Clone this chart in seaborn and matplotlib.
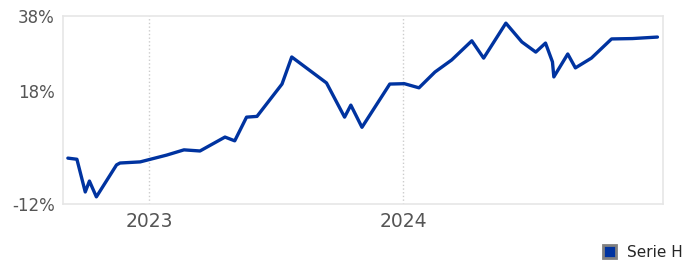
import pandas as pd
import seaborn as sns
import matplotlib.pyplot as plt
import matplotlib.dates as mdates
from matplotlib.patches import Patch

# Werte (Serie H, Rendite in %)
dates = [
    "2022-09-06", "2022-09-19", "2022-10-01", "2022-10-07", "2022-10-17",
    "2022-11-15", "2022-11-20", "2022-12-19", "2023-01-26", "2023-02-20",
    "2023-03-15", "2023-04-20", "2023-05-04", "2023-05-21", "2023-06-05",
    "2023-07-11", "2023-07-25", "2023-09-13", "2023-10-09", "2023-10-18",
    "2023-11-03", "2023-12-13", "2024-01-03", "2024-01-24", "2024-02-16",
    "2024-03-11", "2024-04-09", "2024-04-26", "2024-05-28", "2024-06-20",
    "2024-07-10", "2024-07-24", "2024-08-03", "2024-08-05", "2024-08-25",
    "2024-09-05", "2024-09-28", "2024-10-27", "2024-11-26", "2025-01-01",
]
values = [
    0.2, -0.1, -8.8, -5.9, -10.1,
    -1.6, -1.1, -0.8, 1.0, 2.4,
    2.1, 5.8, 4.8, 11.1, 11.3,
    19.9, 27.1, 20.2, 11.1, 14.3,
    8.4, 19.9, 20.0, 18.9, 23.1,
    26.3, 31.4, 26.8, 36.1, 31.1,
    28.4, 30.8, 25.8, 21.8, 27.9,
    24.2, 26.8, 31.9, 32.0, 32.4,
]
y_ticks = [-12, 18, 38]
year_ticks = ["2023-01-01", "2024-01-01"]
serie_name = "Serie H"

df = pd.DataFrame({"date": pd.to_datetime(dates), "value": values})

sns.set_style("white")
plt.rcParams["font.family"] = ["DejaVu Sans"]

fig = plt.figure(figsize=(6.84, 2.65), dpi=100)
ax = fig.add_axes([63 / 684, 61 / 265, 600 / 684, 188 / 265])

sns.lineplot(data=df, x="date", y="value", ax=ax, color="#0033a0", linewidth=2.4)

# Achsen
ax.set_xlim(pd.Timestamp("2022-08-30"), pd.Timestamp("2025-01-09"))
ax.set_ylim(-12, 38)
ax.set_yticks(y_ticks)
ax.set_yticklabels([f"{v}%" for v in y_ticks], fontsize=12, color="#555555")
ax.set_xticks(pd.to_datetime(year_ticks))
ax.xaxis.set_major_formatter(mdates.DateFormatter("%Y"))
ax.tick_params(axis="x", labelsize=13.5, colors="#555555", length=0, pad=6)
ax.tick_params(axis="y", length=0, pad=6)
ax.set_xlabel("")
ax.set_ylabel("")

ax.grid(False)
ax.xaxis.grid(True, linestyle=":", color="#cccccc", linewidth=1)
for s in ax.spines.values():
    s.set_color("#e6e6e6")
    s.set_linewidth(1.2)

# Legende unten rechts
handle = Patch(facecolor="#0033a0", edgecolor="#808080", linewidth=2)
fig.legend([handle], [serie_name], loc="lower right", bbox_to_anchor=(1.013, -0.018),
           frameon=False, fontsize=11, handlelength=0.85, handleheight=0.85,
           handletextpad=0.75, borderaxespad=0.25)

fig.savefig("out.png", dpi=100)
